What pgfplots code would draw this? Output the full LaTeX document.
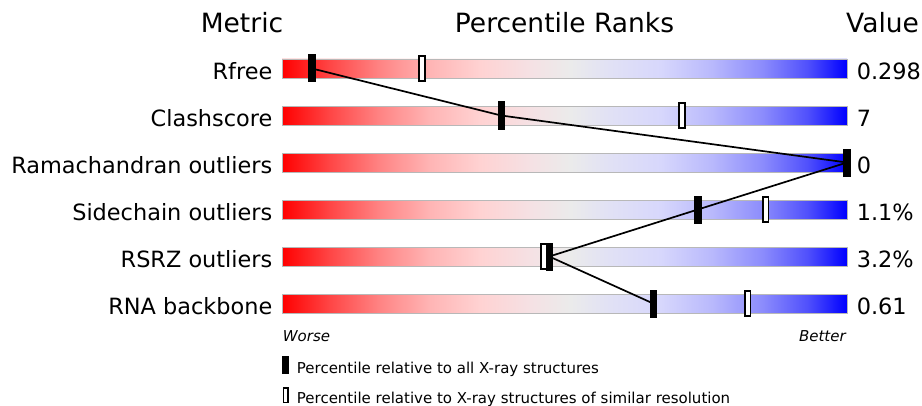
\documentclass[border=0pt]{standalone}
\usepackage{pgfplots}
\pgfplotsset{compat=1.18}
\usepackage{pgfplotstable}
\usepackage{fontspec}
\setmainfont{DejaVu Sans}

% slider colours, worse (red) to better (blue)
\definecolor{s0}{RGB}{255,0,0}
\definecolor{s1}{RGB}{255,70,70}
\definecolor{s2}{RGB}{255,130,130}
\definecolor{s3}{RGB}{255,180,180}
\definecolor{s4}{RGB}{255,210,210}
\definecolor{s5}{RGB}{245,225,228}
\definecolor{s6}{RGB}{235,235,235}
\definecolor{s7}{RGB}{225,225,245}
\definecolor{s8}{RGB}{215,215,252}
\definecolor{s9}{RGB}{185,185,252}
\definecolor{s10}{RGB}{140,140,252}
\definecolor{s11}{RGB}{80,80,252}
\definecolor{s12}{RGB}{0,0,255}
\pgfdeclarehorizontalshading{slider}{100bp}{color(0bp)=(s0); color(25bp)=(s0);
  color(29.25bp)=(s1); color(33.5bp)=(s2); color(38bp)=(s3); color(42.5bp)=(s4);
  color(47bp)=(s5); color(50.5bp)=(s6); color(54bp)=(s7); color(58.5bp)=(s8);
  color(63bp)=(s9); color(67.5bp)=(s10); color(71.5bp)=(s11); color(75bp)=(s12);
  color(100bp)=(s12)}

\pgfdeclareplotmark{allbar}{\pgfpathrectangle{\pgfpoint{-3.7pt}{-14pt}}{\pgfpoint{7.4pt}{28pt}}\pgfusepathqfill}
\pgfdeclareplotmark{simbar}{\pgfpathrectangle{\pgfpoint{-2.8pt}{-12.8pt}}{\pgfpoint{5.6pt}{25.6pt}}\pgfusepathqfillstroke}

% row, percentile
\pgfplotstableread{
row pct
1 5.3
2 38.8
3 100
4 73.6
5 47.3
6 65.7
}\allxray
\pgfplotstableread{
row pct
1 24.8
2 70.8
4 85.6
5 46.3
6 82.4
}\simres

\newcommand{\lab}{\fontsize{22.4}{26}\selectfont}
\newcommand{\hdr}{\fontsize{26.5}{30}\selectfont}
\newcommand{\sml}{\fontsize{15}{18}\selectfont}

\begin{document}
\begin{tikzpicture}
\begin{axis}[
    scale only axis,
    width=922pt, height=405pt,
    xmin=-49.91, xmax=113.27,
    ymin=-0.4574, ymax=8.1596,
    y dir=reverse,
    hide axis,
    clip=false,
    reverse legend,
    legend style={at={(axis cs:-0.05,7.111)}, anchor=north west,
        draw=none, fill=none, inner sep=0pt, outer sep=0pt,
        row sep=11.1pt, font=\sml,
        nodes={anchor=base west, inner sep=0pt, text height=12pt, text depth=2.5pt},
        /tikz/every odd column/.append style={column sep=7.5pt}},
]
\path (rel axis cs:0,0) rectangle (rel axis cs:1,1);

% slider bars
\addplot[xbar, bar width=19pt, shading=slider, draw=black!28, line width=0.8pt, forget plot]
    coordinates {(100,1) (100,2) (100,3) (100,4) (100,5) (100,6)};

% similar resolution markers
\addplot[only marks, mark=simbar, mark options={fill=white, draw=black, line width=1.7pt},
    legend image code/.code={\draw[black, fill=white, line width=1.6pt] (0.8pt,0.8pt) rectangle (5.2pt,15.2pt);}]
    table[x=pct, y=row] {\simres};
\addlegendentry{Percentile relative to X-ray structures of similar resolution}

% all X-ray structures markers
\addplot[black, line width=1.7pt, mark=allbar, mark options={fill=black},
    legend image code/.code={\fill[black] (0pt,0pt) rectangle (6pt,17pt);}]
    table[x=pct, y=row] {\allxray};
\addlegendentry{Percentile relative to all X-ray structures}

% headers
\node[anchor=base, inner sep=0pt, font=\hdr] at (axis cs:-7.08,0.2447) {Metric};
\node[anchor=base, inner sep=0pt, font=\hdr] at (axis cs:50,0.2447) {Percentile Ranks};
\node[anchor=base, inner sep=0pt, font=\hdr] at (axis cs:106.3,0.2447) {Value};

% metric names
\node[anchor=base east, inner sep=0pt, font=\lab] at (axis cs:-1.68,1.23) {Rfree};
\node[anchor=base east, inner sep=0pt, font=\lab] at (axis cs:-1.68,2.23) {Clashscore};
\node[anchor=base east, inner sep=0pt, font=\lab] at (axis cs:-1.68,3.23) {Ramachandran outliers};
\node[anchor=base east, inner sep=0pt, font=\lab] at (axis cs:-1.68,4.23) {Sidechain outliers};
\node[anchor=base east, inner sep=0pt, font=\lab] at (axis cs:-1.68,5.23) {RSRZ outliers};
\node[anchor=base east, inner sep=0pt, font=\lab] at (axis cs:-1.68,6.23) {RNA backbone};

% values
\node[anchor=base west, inner sep=0pt, font=\lab] at (axis cs:101.7,1.23) {0.298};
\node[anchor=base west, inner sep=0pt, font=\lab] at (axis cs:101.7,2.23) {7};
\node[anchor=base west, inner sep=0pt, font=\lab] at (axis cs:101.7,3.23) {0};
\node[anchor=base west, inner sep=0pt, font=\lab] at (axis cs:101.7,4.23) {1.1\%};
\node[anchor=base west, inner sep=0pt, font=\lab] at (axis cs:101.7,5.23) {3.2\%};
\node[anchor=base west, inner sep=0pt, font=\lab] at (axis cs:101.7,6.23) {0.61};

% ends of the scale
\node[anchor=base west, inner sep=0pt, font=\sml\itshape] at (axis cs:0.12,6.819) {Worse};
\node[anchor=base east, inner sep=0pt, font=\sml\itshape] at (axis cs:99.8,6.819) {Better};
\end{axis}
\end{tikzpicture}
\end{document}
